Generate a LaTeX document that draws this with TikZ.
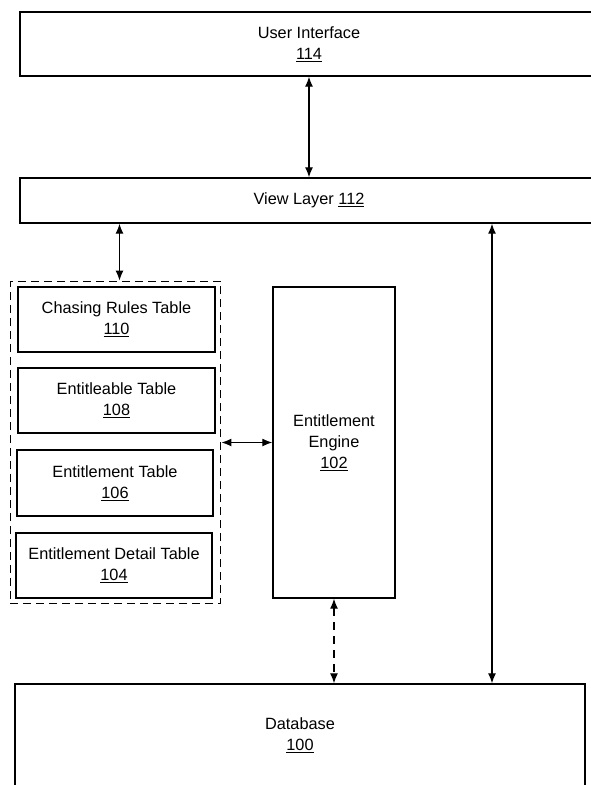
\documentclass[tikz,border=0pt]{standalone}
\usepackage{fontspec}
\setmainfont{Liberation Sans}
\usepackage{tikz}
\usetikzlibrary{arrows.meta,fit}

\begin{document}
\begin{tikzpicture}[x=1pt,y=-1pt,
	box/.style={draw, line width=1.4pt, inner sep=0pt, align=center, font=\fontsize{16.3}{21}\selectfont},
	grp/.style={draw, line width=1.5pt, dash pattern=on 8pt off 5pt, inner sep=5pt},
	link/.style={line width=1.3pt, {Latex[length=10pt,width=8pt]}-{Latex[length=10pt,width=8pt]}}
]
\useasboundingbox (0,0) rectangle (590,785);
\node (ui) [box, minimum width=578pt, minimum height=64pt] at (309,44) {User Interface\\ \underline{114}};
\node (view) [box, minimum width=578pt, minimum height=45pt] at (309,200.5) {View Layer \underline{112}};
\node (t110) [box, minimum width=197pt, minimum height=65pt] at (116.5,319.5) {Chasing Rules Table\\ \underline{110}};
\node (t108) [box, minimum width=197pt, minimum height=65pt] at (116.5,400.5) {Entitleable Table\\ \underline{108}};
\node (t106) [box, minimum width=196pt, minimum height=66pt] at (115,483) {Entitlement Table\\ \underline{106}};
\node (t104) [box, minimum width=196pt, minimum height=65pt] at (114,565.5) {Entitlement Detail Table\\ \underline{104}};
\node (tables) [grp, fit=(t110)(t108)(t106)(t104)] {};
\node (engine) [box, minimum width=122pt, minimum height=311pt] at (334,442.5) {Entitlement\\ Engine\\ \underline{102}};
\node (db) [box, minimum width=570pt, minimum height=102pt] at (300,735) {Database\\ \underline{100}};
\path[link]
(ui) edge (view)
([xshift=4pt]tables.north |- view.south) edge ([xshift=4pt]tables.north)
(tables.east) edge (engine.west)
([xshift=183pt]view.south) edge ([xshift=183pt]view.south |- db.north)
;
\path[link, dash pattern=on 8pt off 6pt]
(engine.south) edge (engine.south |- db.north)
;
\end{tikzpicture}
\end{document}
